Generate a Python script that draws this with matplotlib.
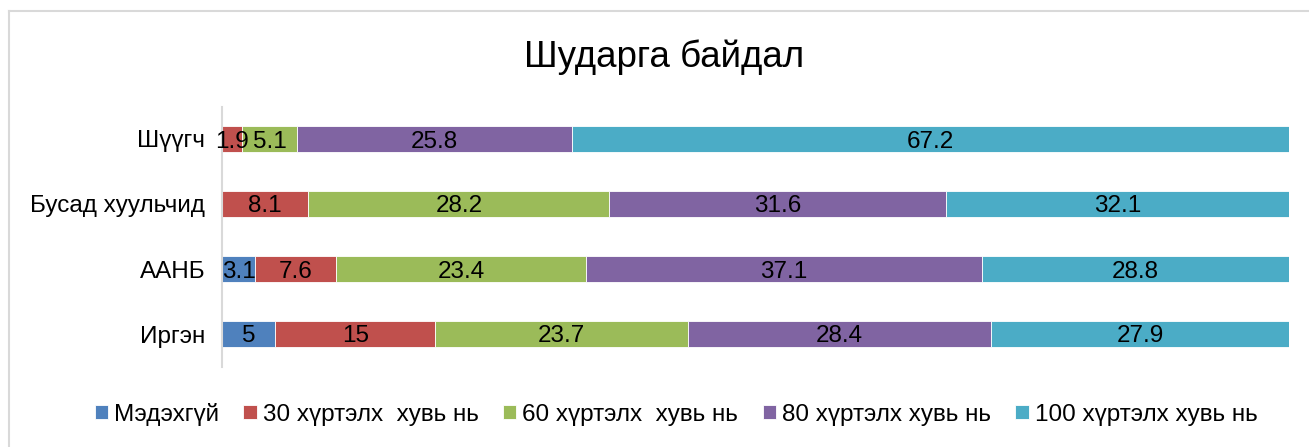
import matplotlib.pyplot as plt
from matplotlib.lines import Line2D

plt.rcParams['font.family'] = ['Liberation Sans', 'DejaVu Sans']

# Өгөгдөл
categories = ['Иргэн', 'ААНБ', 'Бусад хуульчид', 'Шүүгч']
series_names = ['Мэдэхгүй', '30 хүртэлх  хувь нь', '60 хүртэлх  хувь нь',
                '80 хүртэлх хувь нь', '100 хүртэлх хувь нь']
medehgui = [5, 3.1, 0, 0]
s30 = [15, 7.6, 8.1, 1.9]
s60 = [23.7, 23.4, 28.2, 5.1]
s80 = [28.4, 37.1, 31.6, 25.8]
s100 = [27.9, 28.8, 32.1, 67.2]
series = [medehgui, s30, s60, s80, s100]
colors = ['#4f81bd', '#c0504d', '#9bbb59', '#8064a2', '#4bacc6']

fig = plt.figure(figsize=(13.09, 4.47), dpi=100)
ax = fig.add_axes([222 / 1309, 1 - 366.5 / 447, (1289 - 222) / 1309, 260 / 447])

left = [0] * len(categories)
for name, vals, col in zip(series_names, series, colors):
    bars = ax.barh(categories, vals, left=left, height=0.4, color=col,
                   edgecolor='white', linewidth=0.6, label=name)
    for b, v in zip(bars, vals):
        if v > 0:
            ax.text(b.get_x() + b.get_width() / 2, b.get_y() + b.get_height() / 2,
                    f'{v:g}', ha='center', va='center_baseline', fontsize=17.5,
                    color='black')
    left = [l + v for l, v in zip(left, vals)]

ax.set_xlim(0, 100)
ax.set_ylim(-0.5, 3.5)
ax.set_xticks([])
ax.tick_params(axis='y', length=0, labelsize=17.5, pad=12)
for s in ['top', 'right', 'bottom']:
    ax.spines[s].set_visible(False)
ax.spines['left'].set_color('#d9d9d9')
ax.spines['left'].set_linewidth(1.5)

fig.text(664 / 1309, 1 - 57 / 447, 'Шударга байдал', ha='center', va='center',
         fontsize=26.5)

fig.legend(loc='center', bbox_to_anchor=(676 / 1309, 1 - 414 / 447), ncol=5,
           frameon=False, fontsize=17.5, handlelength=0.55, handleheight=0.55,
           handletextpad=0.25, columnspacing=1.0)

# хүрээ
fig.add_artist(Line2D([8.5 / 1309, 1], [1 - 10.5 / 447] * 2, color='#d9d9d9', lw=1.5))
fig.add_artist(Line2D([8.5 / 1309] * 2, [0, 1 - 10.5 / 447], color='#d9d9d9', lw=1.5))

fig.savefig('out.png', dpi=100)
